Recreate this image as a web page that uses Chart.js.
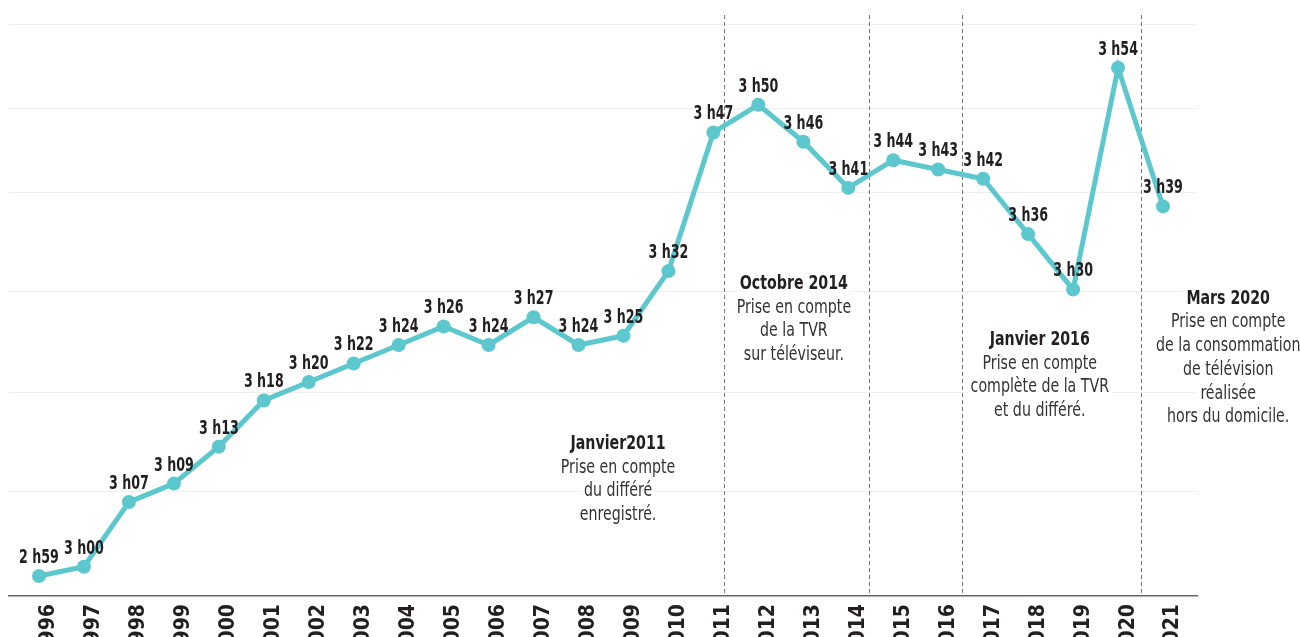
<!DOCTYPE html>
<html lang="fr">
<head>
  <meta charset="UTF-8">
  <title>Durée d'écoute de la télévision</title>
  <script src="https://cdn.jsdelivr.net/npm/chart.js@4.4.2/dist/chart.umd.min.js"></script>
  <style>
    html, body {
      margin: 0;
      padding: 0;
      background: #fff;
      overflow: hidden;
    }
    .chart-box {
      position: relative;
      width: 1300px;
      height: 660px;
    }
  </style>
</head>
<body>
  <div class="chart-box"><canvas id="tvChart"></canvas></div>
  <script>
    // durée d'écoute quotidienne, en minutes
    const years = [1996, 1997, 1998, 1999, 2000, 2001, 2002, 2003, 2004, 2005, 2006, 2007, 2008,
                   2009, 2010, 2011, 2012, 2013, 2014, 2015, 2016, 2017, 2018, 2019, 2020, 2021];
    const minutes = [179, 180, 187, 189, 193, 198, 200, 202, 204, 206, 204, 207, 204,
                     205, 212, 227, 230, 226, 221, 224, 223, 222, 216, 210, 234, 219];
    // lignes de fond
    const gridMinutes = [188.1, 198.9, 209.8, 220.5, 229.6, 238.7];
    // changements de méthode (année décimale)
    const markerYears = [2011.24, 2014.46, 2016.53, 2020.51];
    const noteX = [2008.88, 2012.79, 2018.26, 2022.45];
    const noteY = [193.3, 210.6, 204.55, 209.0];
    const noteTitles = ['Janvier2011', 'Octobre 2014', 'Janvier 2016', 'Mars 2020'];
    const noteLines = [
      ['Prise en compte', 'du différé', 'enregistré.'],
      ['Prise en compte', 'de la TVR', 'sur téléviseur.'],
      ['Prise en compte', 'complète de la TVR', 'et du différé.'],
      ['Prise en compte', 'de la consommation', 'de télévision', 'réalisée', 'hors du domicile.']
    ];

    const FONT = "'DejaVu Sans Condensed', 'Liberation Sans Narrow', Roboto, sans-serif";
    const TEAL = '#5cc7cd';
    const INK = '#231f20';

    function fmt(m) {
      return Math.floor(m / 60) + ' h' + String(m % 60).padStart(2, '0');
    }

    // texte resserré horizontalement (police condensée du modèle)
    function narrowText(ctx, text, x, y, squeeze) {
      ctx.save();
      ctx.translate(x, y);
      ctx.scale(squeeze, 1);
      ctx.fillText(text, 0, 0);
      ctx.restore();
    }

    const markerLines = {
      id: 'markerLines',
      beforeDatasetsDraw(chart) {
        const { ctx, chartArea, scales: { x } } = chart;
        ctx.save();
        ctx.strokeStyle = '#777';
        ctx.lineWidth = 1;
        ctx.setLineDash([4, 3]);
        markerYears.forEach(v => {
          const px = Math.round(x.getPixelForValue(v)) + 0.5;
          ctx.beginPath();
          ctx.moveTo(px, chartArea.top - 9);
          ctx.lineTo(px, chartArea.bottom);
          ctx.stroke();
        });
        ctx.restore();
      }
    };

    const valueLabels = {
      id: 'valueLabels',
      afterDatasetsDraw(chart) {
        const ctx = chart.ctx;
        const meta = chart.getDatasetMeta(0);
        ctx.save();
        ctx.font = 'bold 19px ' + FONT;
        ctx.fillStyle = INK;
        ctx.textAlign = 'center';
        ctx.textBaseline = 'middle';
        meta.data.forEach((pt, i) => {
          narrowText(ctx, fmt(minutes[i]), pt.x, pt.y - 18, 0.74);
        });
        ctx.restore();
      }
    };

    const notes = {
      id: 'notes',
      afterDatasetsDraw(chart) {
        const { ctx, scales: { x, y } } = chart;
        const lh = 23.7;
        const sq = 0.83;
        ctx.save();
        ctx.textAlign = 'center';
        ctx.textBaseline = 'middle';
        noteTitles.forEach((title, n) => {
          const cx = x.getPixelForValue(noteX[n]);
          let cy = y.getPixelForValue(noteY[n]);
          const rows = [title].concat(noteLines[n]);
          rows.forEach((row, r) => {
            ctx.font = (r === 0 ? 'bold ' : '') + '19px ' + FONT;
            const w = ctx.measureText(row).width * sq;
            ctx.fillStyle = '#fff';
            ctx.fillRect(cx - w / 2 - 3, cy - lh / 2, w + 6, lh);
            ctx.fillStyle = r === 0 ? INK : '#333';
            narrowText(ctx, row, cx, cy, sq);
            cy += lh;
          });
        });
        ctx.restore();
      }
    };

    new Chart(document.getElementById('tvChart'), {
      type: 'line',
      data: {
        datasets: [{
          data: years.map((yr, i) => ({ x: yr, y: minutes[i] })),
          borderColor: TEAL,
          backgroundColor: TEAL,
          borderWidth: 5,
          pointRadius: 7,
          pointBorderWidth: 0,
          pointBackgroundColor: TEAL,
          tension: 0
        }]
      },
      options: {
        responsive: true,
        maintainAspectRatio: false,
        animation: false,
        layout: { padding: { left: 9, right: 103, top: 24, bottom: 0 } },
        plugins: {
          legend: { display: false },
          tooltip: { enabled: false }
        },
        scales: {
          x: {
            type: 'linear',
            min: 1995.333,
            max: 2021.756,
            afterBuildTicks(scale) {
              scale.ticks = years.map(v => ({ value: v }));
            },
            afterFit(scale) {
              scale.height = 64;
            },
            grid: { display: false, drawTicks: false },
            border: { display: true, color: '#666', width: 1.5 },
            ticks: {
              autoSkip: false,
              maxRotation: 90,
              minRotation: 90,
              padding: 8,
              labelOffset: 10,
              color: INK,
              font: { family: FONT, size: 21, weight: 'bold' },
              callback: v => String(v)
            }
          },
          y: {
            min: 176.835,
            max: 238.74,
            afterBuildTicks(scale) {
              scale.ticks = gridMinutes.map(v => ({ value: v }));
            },
            afterFit(scale) {
              scale.width = 0;
            },
            grid: { color: '#eeeeee', lineWidth: 1, drawTicks: false },
            border: { display: false },
            ticks: { display: false }
          }
        }
      },
      plugins: [markerLines, valueLabels, notes]
    });
  </script>
</body>
</html>
